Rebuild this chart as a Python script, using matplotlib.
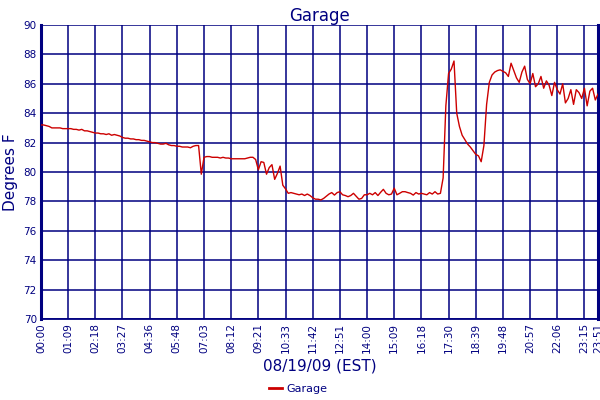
"""
Garage temperature, 08/19/09 — readings every ~7 minutes.
Draws out.png (600x400).
"""

import matplotlib
matplotlib.use("Agg")
import matplotlib.pyplot as plt


# ------------------------------------------------------------------
# Data
# ------------------------------------------------------------------
temps = [
    # 00:00 - 01:09
    83.2, 83.2, 83.15, 83.1, 83.0, 83.0, 83.0, 83.0, 82.95, 82.95,
    82.95, 82.95, 82.9, 82.9, 82.85, 82.9, 82.8, 82.8, 82.75, 82.7,
    # 02:18
    82.65, 82.65, 82.6, 82.6, 82.55, 82.6, 82.5, 82.55, 82.5, 82.45,
    82.35, 82.3, 82.3, 82.25, 82.25, 82.2, 82.2, 82.15, 82.15, 82.1,
    # 04:36
    82.05, 82.0, 82.0, 81.95, 81.9, 81.9, 81.95, 81.85, 81.8, 81.8,
    81.75, 81.75, 81.7, 81.7, 81.7, 81.65, 81.75, 81.8, 81.8, 79.85,
    # 07:03
    81.0, 81.05, 81.05, 81.0, 81.0, 81.0, 80.95, 81.0, 80.95, 80.95,
    80.9, 80.9, 80.9, 80.9, 80.9, 80.9, 80.95, 81.0, 81.0, 80.85,
    # 09:21
    80.15, 80.7, 80.65, 79.85, 80.3, 80.5, 79.5, 79.9, 80.4, 79.1,
    78.85, 78.55, 78.6, 78.55, 78.5, 78.45, 78.5, 78.4, 78.5, 78.4,
    # 11:42
    78.25, 78.15, 78.15, 78.1, 78.2, 78.35, 78.5, 78.6, 78.43, 78.6,
    78.66, 78.45, 78.4, 78.32, 78.4, 78.55, 78.35, 78.15, 78.2, 78.45,
    # 14:00
    78.45, 78.55, 78.45, 78.6, 78.4, 78.62, 78.82, 78.55, 78.45, 78.5,
    78.9, 78.45, 78.55, 78.66, 78.66, 78.6, 78.55, 78.43, 78.6, 78.5,
    # 16:18
    78.55, 78.5, 78.45, 78.6, 78.5, 78.66, 78.5, 78.55, 79.6, 84.5,
    86.7, 87.0, 87.55, 84.0, 83.1, 82.5, 82.2, 81.9, 81.7, 81.45,
    # 18:39
    81.2, 81.1, 80.7, 81.8, 84.6, 86.1, 86.6, 86.8, 86.9, 86.95,
    86.85, 86.75, 86.5, 87.4, 86.9, 86.4, 86.1, 86.8, 87.2, 86.3,
    # 20:57
    86.0, 86.7, 85.8, 86.0, 86.5, 85.7, 86.2, 85.9, 85.2, 86.1,
    85.6, 85.3, 86.0, 84.7, 85.0, 85.6, 84.6, 85.6, 85.4, 85.0,
    # 23:15 - 23:51
    85.7, 84.5, 85.5, 85.7, 84.9, 85.3,
]

tick_labels = [
    "00:00", "01:09", "02:18", "03:27", "04:36", "05:48", "07:03",
    "08:12", "09:21", "10:33", "11:42", "12:51", "14:00", "15:09",
    "16:18", "17:30", "18:39", "19:48", "20:57", "22:06", "23:15",
    "23:51",
]
samples_per_tick = 10

NAVY = "#000080"
RED = "#CC0000"


def main():
    n = len(temps)
    xs = list(range(n))
    tick_pos = [i * samples_per_tick for i in range(len(tick_labels) - 1)] + [n - 1]

    fig = plt.figure(figsize=(6, 4), dpi=100)
    ax = fig.add_axes([0.0683, 0.2025, 0.9284, 0.735])

    ax.plot(xs, temps, color=RED, linewidth=1.0, label="Garage", zorder=3)

    ax.set_xlim(0, n - 1)
    ax.set_ylim(70, 90)
    ax.set_yticks(range(70, 91, 2))
    ax.set_xticks(tick_pos)
    ax.set_xticklabels(tick_labels, rotation=90, fontsize=7.5, color=NAVY)
    ax.tick_params(axis="y", labelsize=7.5, labelcolor=NAVY)
    ax.tick_params(length=0, pad=3)

    ax.grid(True, color=NAVY, linewidth=1.1)
    for side in ["left", "bottom", "right"]:
        ax.spines[side].set_color(NAVY)
    ax.spines["left"].set_linewidth(2.2)
    ax.spines["right"].set_linewidth(2.2)
    ax.spines["bottom"].set_linewidth(1.3)
    ax.spines["top"].set_visible(False)

    ax.set_title("Garage", fontsize=12, color=NAVY, pad=3)
    ax.set_ylabel("Degrees F", fontsize=11, color=NAVY, labelpad=4)
    ax.set_xlabel("08/19/09 (EST)", fontsize=11, color=NAVY, labelpad=4)

    leg = fig.legend(loc="lower center", bbox_to_anchor=(0.497, -0.01), frameon=False,
                     fontsize=8, labelcolor=NAVY, handlelength=1.2, handletextpad=0.4)
    for line in leg.get_lines():
        line.set_linewidth(2)

    fig.savefig("out.png", dpi=100)


if __name__ == "__main__":
    main()
